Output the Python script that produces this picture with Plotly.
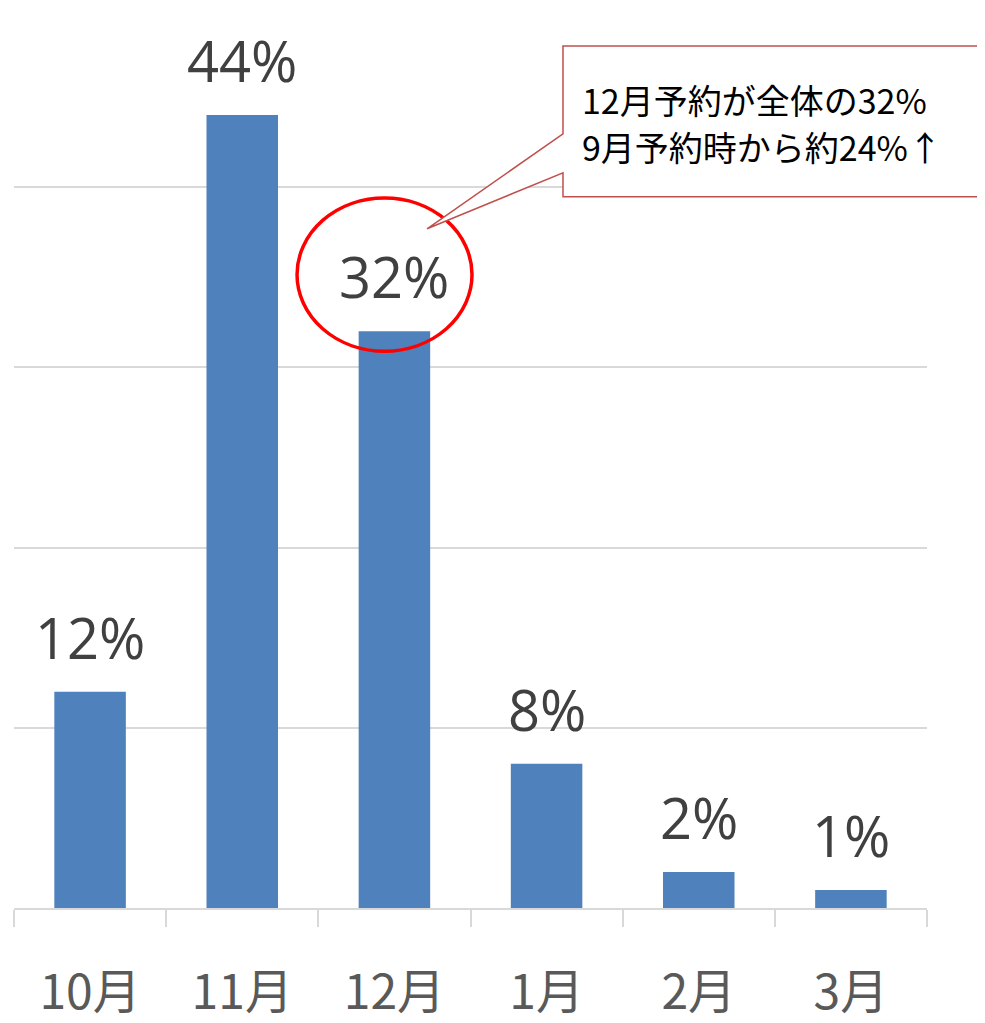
import plotly.graph_objects as go

months = ["10月", "11月", "12月", "1月", "2月", "3月"]
shares = [12, 44, 32, 8, 2, 1]
labels = ["12%", "44%", "32%", "8%", "2%", "1%"]
callout_lines = ["12月予約が全体の32%", "9月予約時から約24%↑"]

# plot area in page pixels (page has 8px body margin)
L, R, T, B = 14, 927, 7, 908
W, H = 985, 1023

def px(x):
    return (x - L) / (R - L)

def py(y):
    return (B - y) / (B - T)

fig = go.Figure()
fig.add_trace(go.Bar(x=months, y=shares, marker=dict(color="#4F81BD", line=dict(width=0)),
                     hoverinfo="skip"))

for m, v, t in zip(months, shares, labels):
    fig.add_annotation(x=m, y=v, text=t, showarrow=False, xref="x", yref="y",
                       yanchor="bottom", yshift=15,
                       font=dict(family="Open Sans", size=56, color="#404040"))

# red circle around the 12月 label
fig.add_shape(type="circle", xref="x", yref="y", x0=1.36, x1=2.51, y0=30.9, y1=39.4,
              line=dict(color="#FF0000", width=3.5), fillcolor="rgba(0,0,0,0)")

# callout box with tail
pts = [(563, 45), (1010, 45), (1010, 196), (563, 196), (563, 172), (427, 228), (563, 133)]
path = "M " + " L ".join(f"{px(a):.4f} {py(b):.4f}" for a, b in pts) + " Z"
fig.add_shape(type="path", xref="paper", yref="paper", path=path,
              line=dict(color="#C0504D", width=1.5), fillcolor="white")

for line, yc in zip(callout_lines, [99, 146]):
    fig.add_annotation(xref="paper", yref="paper", x=px(580), y=py(yc), xanchor="left",
                       yanchor="middle", align="left", showarrow=False, text=line,
                       font=dict(family="Noto Sans CJK JP", size=34, color="#000000"))

fig.update_layout(
    width=W, height=H,
    margin=dict(l=L - 8, r=W + 8 - R, t=0, b=H + 8 - B),
    paper_bgcolor="white", plot_bgcolor="white",
    bargap=0.53, showlegend=False,
    xaxis=dict(showline=True, linecolor="#D9D9D9", linewidth=1.5,
               ticks="outside", tickson="boundaries", ticklen=17, tickcolor="#D9D9D9", tickwidth=1.5,
               tickfont=dict(family="Noto Sans CJK JP", size=48, color="#595959"),
               ticklabelstandoff=42, showgrid=False),
    yaxis=dict(range=[0, 50 * (B - 8) / (B - T) ], dtick=10, showgrid=True, gridcolor="#D9D9D9",
               gridwidth=1.5, showticklabels=False, zeroline=False, showline=False),
)

fig.write_html("out.html")
